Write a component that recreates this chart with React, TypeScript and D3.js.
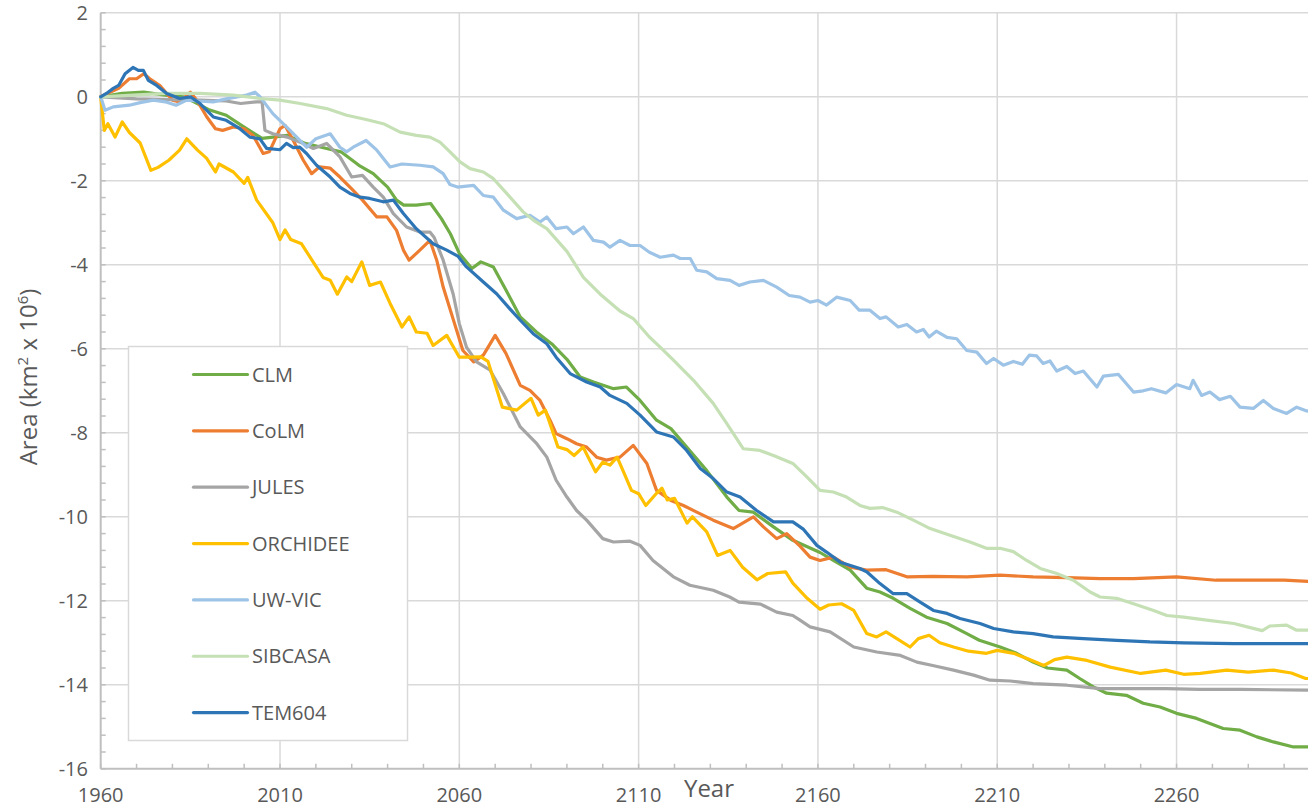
import React from 'react';
import * as d3 from 'd3';

type Pt = [number, number];

// Permafrost area change per model as [year, km2 x 10^6]
const clm: Pt[] = [[1960,0],[1966,0.08],[1972,0.11],[1978,0.04],[1983,0.0],[1986,-0.12],[1990,-0.3],[1995,-0.44],[2000,-0.72],[2005,-0.99],[2008,-0.96],[2012,-0.92],[2017,-1.11],[2023,-1.23],[2027,-1.31],[2032,-1.63],[2036,-1.83],[2040,-2.15],[2042.5,-2.46],[2044.5,-2.58],[2048,-2.58],[2052,-2.54],[2055,-2.9],[2057.5,-3.26],[2060,-3.73],[2063.5,-4.09],[2066,-3.93],[2069.5,-4.05],[2073,-4.6],[2077,-5.24],[2081.5,-5.6],[2086,-5.9],[2090,-6.25],[2093.7,-6.67],[2097.4,-6.79],[2103,-6.95],[2106.6,-6.91],[2110.4,-7.23],[2115,-7.7],[2119,-7.9],[2123.4,-8.34],[2129,-8.9],[2134.6,-9.53],[2138,-9.85],[2142,-9.89],[2147.6,-10.24],[2153,-10.56],[2160.6,-10.85],[2164.3,-11.04],[2169,-11.27],[2173.6,-11.7],[2177.3,-11.79],[2181,-11.94],[2185.7,-12.18],[2190.3,-12.39],[2196,-12.54],[2201.5,-12.78],[2205,-12.94],[2210.8,-13.1],[2215.4,-13.25],[2220,-13.46],[2224,-13.6],[2229.4,-13.65],[2233,-13.85],[2236.8,-14.05],[2240.5,-14.2],[2246,-14.25],[2250.7,-14.44],[2255.4,-14.53],[2260,-14.68],[2265.6,-14.8],[2269.3,-14.92],[2273,-15.04],[2277.7,-15.08],[2282.4,-15.24],[2287,-15.36],[2292.6,-15.48],[2299,-15.48]];

const colm: Pt[] = [[1960,0],[1962.6,0.11],[1965,0.2],[1968,0.43],[1970,0.43],[1972,0.55],[1973.7,0.43],[1976.5,0.27],[1980,-0.08],[1982,-0.12],[1985,0.11],[1986.8,-0.08],[1989.6,-0.48],[1992,-0.76],[1994,-0.8],[1997,-0.72],[2000,-0.76],[2002.5,-0.92],[2005.3,-1.35],[2007,-1.31],[2010,-0.76],[2011.4,-0.68],[2013.7,-1.04],[2016.5,-1.51],[2018.8,-1.83],[2021,-1.67],[2024,-1.7],[2026.7,-1.91],[2030.4,-2.23],[2033,-2.46],[2037,-2.86],[2039.8,-2.86],[2042.5,-3.18],[2044.4,-3.65],[2046,-3.89],[2049,-3.65],[2051.8,-3.42],[2053.7,-3.89],[2055.5,-4.53],[2058.3,-5.3],[2061,-6.04],[2064,-6.31],[2066.7,-6.15],[2070,-5.68],[2073,-6.11],[2077,-6.87],[2079.7,-6.99],[2082.5,-7.23],[2085.3,-7.7],[2087,-8.02],[2090,-8.14],[2092.7,-8.26],[2095.5,-8.34],[2098.3,-8.58],[2101,-8.65],[2104.8,-8.58],[2108.5,-8.3],[2112.3,-8.73],[2115,-9.37],[2119,-9.61],[2122.5,-9.73],[2126.2,-9.89],[2130.8,-10.08],[2136.4,-10.28],[2142,-10.0],[2144.8,-10.24],[2148.5,-10.52],[2151.3,-10.4],[2155,-10.7],[2157.8,-10.96],[2160.6,-11.04],[2164.3,-10.96],[2169,-11.2],[2173.6,-11.27],[2179,-11.26],[2184.8,-11.43],[2192,-11.42],[2201.5,-11.43],[2210.8,-11.39],[2220,-11.43],[2229.4,-11.45],[2238.7,-11.47],[2248,-11.47],[2260,-11.43],[2271,-11.51],[2280.5,-11.51],[2290,-11.51],[2299,-11.55]];

const jules: Pt[] = [[1960,0],[1970,-0.05],[1980,-0.07],[1988,-0.08],[1995,-0.1],[1999,-0.16],[2003.5,-0.12],[2005,-0.12],[2005.8,-0.8],[2008,-0.88],[2012,-0.96],[2015.6,-1.08],[2019.3,-1.23],[2023,-1.11],[2026.7,-1.43],[2030,-1.91],[2033,-1.87],[2036,-2.15],[2038.8,-2.39],[2041.6,-2.78],[2045.3,-3.1],[2049,-3.22],[2051.8,-3.22],[2053,-3.35],[2055.5,-3.89],[2058.3,-4.7],[2060,-5.4],[2062,-5.96],[2064.8,-6.31],[2068.6,-6.51],[2072.3,-7.07],[2077,-7.86],[2081.6,-8.26],[2084.4,-8.58],[2087,-9.13],[2090,-9.53],[2092.7,-9.85],[2095.5,-10.08],[2100,-10.52],[2103,-10.6],[2107.6,-10.58],[2110.4,-10.68],[2114,-11.04],[2119.7,-11.43],[2124.3,-11.63],[2130.8,-11.75],[2135.4,-11.91],[2138,-12.03],[2144,-12.08],[2148.5,-12.27],[2153,-12.35],[2155,-12.46],[2157.8,-12.62],[2163.4,-12.74],[2170,-13.1],[2176.4,-13.22],[2183,-13.3],[2187.6,-13.46],[2192,-13.54],[2197.8,-13.65],[2203.4,-13.77],[2208,-13.89],[2213.6,-13.91],[2220,-13.97],[2229.4,-14.01],[2238.7,-14.09],[2248,-14.09],[2257,-14.09],[2266.6,-14.11],[2278,-14.11],[2299,-14.13]];

const orchidee: Pt[] = [[1960,0],[1961,-0.8],[1962,-0.64],[1964,-0.96],[1966,-0.6],[1968,-0.85],[1971,-1.1],[1974,-1.75],[1976,-1.68],[1979,-1.51],[1982,-1.27],[1984,-1.0],[1987,-1.27],[1989.5,-1.46],[1992,-1.79],[1993,-1.6],[1997,-1.79],[2000,-2.06],[2001,-1.92],[2003.5,-2.46],[2008,-3.0],[2010,-3.4],[2011.4,-3.17],[2013,-3.4],[2016,-3.5],[2019,-3.9],[2022,-4.3],[2024,-4.37],[2026,-4.7],[2028.6,-4.29],[2030,-4.4],[2032.8,-3.93],[2035,-4.49],[2038,-4.41],[2040.7,-4.92],[2044,-5.48],[2046,-5.24],[2048,-5.6],[2051,-5.63],[2052.7,-5.92],[2056.5,-5.68],[2060,-6.2],[2063,-6.2],[2066,-6.19],[2068,-6.3],[2072,-7.39],[2076,-7.46],[2080,-7.18],[2082,-7.58],[2084,-7.46],[2087.5,-8.34],[2090,-8.4],[2092,-8.54],[2094.5,-8.34],[2098,-8.93],[2100,-8.7],[2102,-8.77],[2104,-8.58],[2106,-8.97],[2108,-9.37],[2110,-9.45],[2112,-9.73],[2115,-9.44],[2116.5,-9.32],[2118,-9.6],[2120,-9.56],[2123.5,-10.15],[2125,-10.0],[2129,-10.36],[2132,-10.92],[2135.5,-10.8],[2139,-11.2],[2143,-11.5],[2146,-11.35],[2151,-11.31],[2153,-11.58],[2157,-11.94],[2160.6,-12.2],[2163,-12.1],[2166.6,-12.07],[2170,-12.23],[2173.6,-12.78],[2176.4,-12.86],[2179,-12.74],[2182,-12.9],[2185.7,-13.1],[2188,-12.9],[2191,-12.82],[2194,-13.0],[2197.8,-13.1],[2202,-13.2],[2207,-13.25],[2210,-13.18],[2214.6,-13.25],[2219,-13.4],[2223,-13.54],[2226,-13.4],[2229.4,-13.34],[2235,-13.42],[2241.5,-13.58],[2250,-13.73],[2257,-13.65],[2262,-13.75],[2266.6,-13.73],[2274,-13.65],[2280,-13.7],[2287,-13.65],[2292,-13.72],[2296,-13.85],[2299,-13.85]];

const uwvic: Pt[] = [[1960,0],[1961.2,-0.32],[1963.5,-0.24],[1968,-0.2],[1971,-0.14],[1974.7,-0.08],[1978,-0.12],[1981,-0.2],[1984,-0.08],[1987,-0.1],[1991.4,-0.12],[1995,-0.05],[2000.7,0.04],[2003,0.11],[2004.4,0],[2008,-0.4],[2012.8,-0.8],[2017.4,-1.2],[2020,-1.0],[2024,-0.88],[2026.7,-1.2],[2028.6,-1.31],[2030.4,-1.2],[2034,-1.04],[2037,-1.27],[2040.7,-1.67],[2044,-1.6],[2049,-1.63],[2052.7,-1.67],[2055.5,-1.83],[2057.4,-2.09],[2059.5,-2.15],[2064,-2.11],[2066.7,-2.35],[2069.5,-2.39],[2072.3,-2.7],[2076,-2.9],[2079.7,-2.82],[2082.5,-2.98],[2084.4,-2.86],[2087,-3.14],[2090,-3.1],[2091.8,-3.26],[2094.6,-3.1],[2097.4,-3.42],[2100.2,-3.46],[2102,-3.58],[2104.8,-3.42],[2107.6,-3.54],[2110.4,-3.54],[2113,-3.7],[2116,-3.82],[2119.7,-3.77],[2121.6,-3.85],[2124.4,-3.85],[2126.2,-4.13],[2129,-4.17],[2131.8,-4.33],[2135.5,-4.37],[2138,-4.49],[2141,-4.41],[2144.8,-4.37],[2148.5,-4.53],[2152,-4.73],[2155,-4.77],[2157.8,-4.89],[2160,-4.85],[2162.4,-4.96],[2165.2,-4.77],[2169,-4.85],[2171.5,-5.08],[2174.5,-5.08],[2177.3,-5.28],[2179,-5.24],[2182.4,-5.48],[2184.8,-5.42],[2187.5,-5.6],[2189.4,-5.54],[2191,-5.72],[2193,-5.58],[2196,-5.73],[2198.7,-5.76],[2201.5,-6.04],[2204.3,-6.08],[2207,-6.35],[2209,-6.23],[2211.7,-6.39],[2214.5,-6.3],[2217,-6.37],[2219,-6.15],[2221,-6.17],[2222.8,-6.35],[2224.7,-6.29],[2226.6,-6.53],[2229.4,-6.42],[2231.7,-6.59],[2234,-6.53],[2237.8,-6.91],[2239.6,-6.65],[2243.8,-6.61],[2248,-7.03],[2250.7,-7.0],[2253,-6.95],[2257,-7.05],[2260,-6.85],[2263.7,-6.95],[2264.6,-6.75],[2267,-7.11],[2269.3,-7.03],[2272,-7.21],[2275,-7.13],[2277.7,-7.39],[2281.4,-7.42],[2284.2,-7.23],[2287,-7.42],[2290.7,-7.54],[2293.5,-7.39],[2296.3,-7.48],[2299,-7.5]];

const sibcasa: Pt[] = [[1960,0],[1969,0.04],[1978.4,0.08],[1987.7,0.08],[1997,0.04],[2004.4,-0.04],[2010,-0.08],[2015.6,-0.16],[2023,-0.28],[2028.6,-0.44],[2034,-0.54],[2038.8,-0.64],[2043.5,-0.84],[2048,-0.92],[2051.8,-0.96],[2054.6,-1.08],[2057.4,-1.31],[2060.2,-1.55],[2063,-1.71],[2066.7,-1.79],[2069.5,-1.95],[2073.2,-2.3],[2077.8,-2.74],[2080.7,-2.94],[2084.4,-3.14],[2090,-3.68],[2094.6,-4.3],[2099.3,-4.7],[2104.8,-5.1],[2108.5,-5.28],[2113,-5.72],[2116,-5.96],[2119.7,-6.27],[2125.3,-6.75],[2130.8,-7.3],[2134.6,-7.78],[2139.2,-8.38],[2143.8,-8.42],[2147.6,-8.54],[2153,-8.73],[2156.9,-9.05],[2160.6,-9.37],[2164.3,-9.41],[2168,-9.53],[2171.7,-9.73],[2174.5,-9.8],[2178,-9.78],[2182,-9.89],[2186.6,-10.08],[2191.3,-10.28],[2196.8,-10.44],[2202.4,-10.6],[2207,-10.75],[2210.8,-10.75],[2214.5,-10.83],[2218.2,-11.04],[2222,-11.23],[2226.6,-11.35],[2231.2,-11.51],[2235.9,-11.79],[2238.7,-11.91],[2243.3,-11.94],[2248,-12.07],[2253.6,-12.23],[2257.3,-12.35],[2262,-12.39],[2268.4,-12.46],[2276,-12.54],[2279.7,-12.62],[2283.9,-12.71],[2286,-12.6],[2290.7,-12.58],[2293.5,-12.7],[2299,-12.7]];

const tem604: Pt[] = [[1960,0],[1961.6,0.08],[1963.5,0.2],[1965,0.27],[1966.8,0.55],[1969,0.7],[1970.5,0.63],[1971.9,0.63],[1973.3,0.39],[1975.6,0.27],[1978.4,0.08],[1982,-0.04],[1985,0],[1987.7,-0.16],[1991.4,-0.48],[1995,-0.56],[1998.8,-0.76],[2001.6,-0.96],[2004.4,-1.0],[2006.3,-1.23],[2010,-1.26],[2011.8,-1.11],[2013.7,-1.21],[2015.5,-1.2],[2017.4,-1.35],[2020.2,-1.63],[2024,-1.91],[2026.7,-2.15],[2029.5,-2.3],[2032.3,-2.39],[2035,-2.42],[2038.8,-2.5],[2041.6,-2.46],[2044.4,-2.78],[2048,-3.14],[2052.7,-3.5],[2056.5,-3.65],[2059.7,-3.8],[2062,-4.05],[2066.7,-4.41],[2070.4,-4.69],[2074.1,-5.05],[2077,-5.32],[2080.6,-5.64],[2084.4,-5.88],[2087,-6.2],[2090.9,-6.59],[2095.5,-6.79],[2099.3,-6.91],[2102,-7.11],[2106.7,-7.3],[2110.4,-7.58],[2115,-7.98],[2119.7,-8.1],[2123.4,-8.42],[2127.2,-8.85],[2130.8,-9.09],[2134.6,-9.41],[2138.3,-9.53],[2142.9,-9.85],[2147.6,-10.12],[2153,-10.12],[2156,-10.3],[2159.7,-10.68],[2162.4,-10.84],[2166.2,-11.08],[2171.7,-11.23],[2173.6,-11.31],[2177.3,-11.59],[2181,-11.83],[2184.8,-11.83],[2188.5,-12.03],[2192.2,-12.23],[2196,-12.3],[2199.6,-12.42],[2205.2,-12.54],[2209,-12.66],[2214.5,-12.74],[2220,-12.78],[2225.6,-12.86],[2234,-12.9],[2243.3,-12.94],[2252.6,-12.98],[2262,-13.0],[2276,-13.02],[2299,-13.02]];

const seriesNames = ['CLM', 'CoLM', 'JULES', 'ORCHIDEE', 'UW-VIC', 'SIBCASA', 'TEM604'];
const seriesData = [clm, colm, jules, orchidee, uwvic, sibcasa, tem604];
const seriesColors = ['#70ad47', '#ed7d31', '#a5a5a5', '#ffc000', '#9dc3e6', '#c5e0b4', '#2e75b6'];

const xTicks = [1960, 2010, 2060, 2110, 2160, 2210, 2260];
const yTicks = [2, 0, -2, -4, -6, -8, -10, -12, -14, -16];

const width = 1308;
const height = 809;
const font = '"Open Sans", Lato, sans-serif';
const textColor = '#595959';

const App = () => {
  const x = d3.scaleLinear().domain([1960, 2300]).range([100.7, 1320]);
  const y = d3.scaleLinear().domain([-16, 2]).range([768.8, 12.8]);
  const line = d3.line<Pt>().x(d => x(d[0])).y(d => y(d[1]));

  const left = x(1960);
  const right = x(2300);
  const bottom = y(-16);

  const minorX = d3.range(1960, 2301, 10);
  const minorY = d3.range(0, 46).map(i => 2 - i * 0.4);

  // legend box
  const lg = { x: 128.5, y: 346.5, w: 279, h: 394, row: 56.35, first: 374.5 };

  return (
    <div style={{ position: 'fixed', left: 0, top: 0 }}>
      <svg width={width} height={height} style={{ display: 'block', background: '#fff' }}>
        {/* gridlines */}
        {yTicks.filter(v => v > -16).map(v => (
          <line key={'gy' + v} x1={left} x2={right} y1={y(v)} y2={y(v)} stroke="#d9d9d9" strokeWidth={1.5} />
        ))}
        {xTicks.filter(v => v > 1960).map(v => (
          <line key={'gx' + v} x1={x(v)} x2={x(v)} y1={y(2)} y2={bottom} stroke="#d9d9d9" strokeWidth={1.5} />
        ))}

        {/* axes */}
        <line x1={left} x2={left} y1={y(2)} y2={bottom} stroke="#bfbfbf" strokeWidth={2} />
        <line x1={left} x2={right} y1={bottom} y2={bottom} stroke="#bfbfbf" strokeWidth={2} />
        {minorY.map(v => (
          <line key={'my' + v} x1={left} x2={left + 5} y1={y(v)} y2={y(v)} stroke="#bfbfbf" strokeWidth={1.5} />
        ))}
        {minorX.map(v => (
          <line key={'mx' + v} x1={x(v)} x2={x(v)} y1={bottom} y2={bottom - 5} stroke="#bfbfbf" strokeWidth={1.5} />
        ))}

        {/* series */}
        <g fill="none" strokeWidth={3.2} strokeLinejoin="round" strokeLinecap="round">
          {seriesData.map((d, i) => (
            <path key={seriesNames[i]} d={line(d) || ''} stroke={seriesColors[i]} />
          ))}
        </g>

        {/* tick labels */}
        <g fontFamily={font} fontSize={20} fill={textColor}>
          {yTicks.map(v => (
            <text key={'ty' + v} x={88} y={y(v) + 7} textAnchor="end">{v}</text>
          ))}
          {xTicks.map(v => (
            <text key={'tx' + v} x={x(v)} y={802} textAnchor="middle">{v}</text>
          ))}
          <text x={709} y={797} textAnchor="middle" fontSize={24}>Year</text>
          <text transform={`translate(37,${377}) rotate(-90)`} textAnchor="middle" fontSize={24}>
            Area (km<tspan dy={-9} fontSize={15}>2</tspan><tspan dy={9}> x 10</tspan><tspan dy={-9} fontSize={15}>6</tspan><tspan dy={9}>)</tspan>
          </text>
        </g>

        {/* legend */}
        <rect x={lg.x} y={lg.y} width={lg.w} height={lg.h} fill="#fff" stroke="#d9d9d9" strokeWidth={1.5} />
        {seriesNames.map((name, i) => {
          const cy = lg.first + i * lg.row;
          return (
            <g key={'lg' + name}>
              <line x1={193.5} x2={247.5} y1={cy} y2={cy} stroke={seriesColors[i]} strokeWidth={3.2} strokeLinecap="round" />
              <text x={252} y={cy + 7} fontFamily={font} fontSize={20} fill={textColor}>{name}</text>
            </g>
          );
        })}
      </svg>
    </div>
  );
};

export default App;
